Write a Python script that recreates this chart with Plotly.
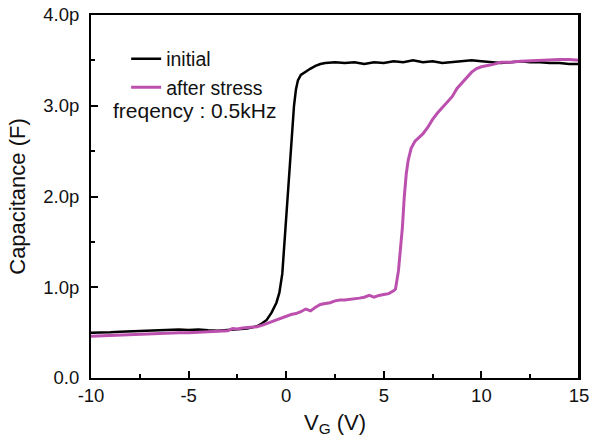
import plotly.graph_objects as go

# ---- data ----
vg_initial = [-10, -9.5, -9, -8.5, -8, -7.5, -7, -6.5, -6, -5.5, -5, -4.5, -4, -3.5, -3, -2.5,
              -2, -1.5, -1.25, -1.0, -0.75, -0.5, -0.35, -0.2, -0.1, 0.0, 0.1, 0.2, 0.3, 0.4,
              0.5, 0.6, 0.75, 1.0, 1.25, 1.5, 1.75, 2.0, 2.5, 3, 3.5, 4, 4.5, 5, 5.5, 6, 6.5,
              7, 7.5, 8, 8.5, 9, 9.5, 10, 10.5, 11, 11.5, 12, 12.5, 13, 13.5, 14, 14.5, 15]
c_initial = [0.50, 0.50, 0.505, 0.51, 0.515, 0.52, 0.52, 0.525, 0.53, 0.535, 0.53, 0.535, 0.525,
             0.52, 0.53, 0.54, 0.545, 0.57, 0.60, 0.64, 0.72, 0.83, 0.94, 1.15, 1.45, 1.75,
             2.05, 2.40, 2.75, 3.00, 3.18, 3.28, 3.34, 3.38, 3.41, 3.44, 3.46, 3.47, 3.48,
             3.47, 3.48, 3.46, 3.48, 3.47, 3.49, 3.48, 3.50, 3.48, 3.49, 3.47, 3.48, 3.49,
             3.50, 3.49, 3.48, 3.47, 3.48, 3.49, 3.48, 3.48, 3.47, 3.47, 3.46, 3.46]

vg_stress = [-10, -9.5, -9, -8.5, -8, -7.5, -7, -6.5, -6, -5.5, -5, -4.5, -4, -3.5, -3, -2.75,
             -2.5, -2.25, -2, -1.75, -1.5, -1.25, -1, -0.75, -0.5, -0.25, 0, 0.25, 0.5, 0.75,
             1.0, 1.25, 1.5, 1.75, 2.0, 2.25, 2.5, 2.75, 3.0, 3.25, 3.5, 3.75, 4.0, 4.25, 4.5,
             4.75, 5.0, 5.25, 5.5, 5.6, 5.75, 5.85, 5.95, 6.05, 6.15, 6.25, 6.4, 6.6, 6.8, 7.0,
             7.25, 7.5, 7.75, 8.0, 8.25, 8.5, 8.75, 9.0, 9.25, 9.5, 9.75, 10.0, 10.25, 10.5,
             11, 11.5, 12, 12.5, 13, 13.5, 14, 14.5, 15]
c_stress = [0.46, 0.465, 0.47, 0.475, 0.48, 0.485, 0.49, 0.49, 0.495, 0.50, 0.50, 0.505, 0.51,
            0.51, 0.52, 0.545, 0.54, 0.55, 0.555, 0.56, 0.565, 0.58, 0.60, 0.62, 0.64, 0.66,
            0.68, 0.70, 0.71, 0.73, 0.76, 0.74, 0.78, 0.81, 0.82, 0.83, 0.85, 0.86, 0.86,
            0.865, 0.875, 0.88, 0.89, 0.91, 0.89, 0.91, 0.92, 0.93, 0.96, 0.98, 1.18, 1.38,
            1.65, 2.00, 2.25, 2.40, 2.53, 2.61, 2.65, 2.69, 2.76, 2.85, 2.92, 2.98, 3.04,
            3.10, 3.19, 3.25, 3.32, 3.37, 3.41, 3.43, 3.44, 3.45, 3.48, 3.48, 3.49, 3.495,
            3.50, 3.51, 3.51, 3.51, 3.50]

y_tickvals = [0, 1, 2, 3, 4]
y_ticktext = ["0.0", "1.0p", "2.0p", "3.0p", "4.0p"]
x_tickvals = [-10, -5, 0, 5, 10, 15]
x_ticktext = ["-10", "-5", "0", "5", "10", "15"]

series_names = ["initial", "after stress"]
series_colors = ["#000000", "#BC50AE"]
note_text = "freqency : 0.5kHz"

FONT = "Liberation Sans, Arial, sans-serif"

fig = go.Figure()
fig.add_trace(go.Scatter(x=vg_initial, y=c_initial, mode="lines", name=series_names[0],
                         line=dict(color=series_colors[0], width=2.5)))
fig.add_trace(go.Scatter(x=vg_stress, y=c_stress, mode="lines", name=series_names[1],
                         line=dict(color=series_colors[1], width=3)))

axis_common = dict(
    showgrid=False, zeroline=False, showline=True, linecolor="black", linewidth=2,
    mirror=True, ticks="inside", ticklen=7, tickwidth=2, tickcolor="black",
    tickfont=dict(family=FONT, size=18.5, color="#111"), automargin=False,
    ticklabeloverflow="allow",
)

fig.update_xaxes(range=[-10, 15], tickvals=x_tickvals, ticktext=x_ticktext,
                 minor=dict(dtick=2.5, tick0=-10, ticks="inside", ticklen=4, tickwidth=2,
                            tickcolor="black"),
                 title=dict(text="V<sub>G</sub> (V)", font=dict(family=FONT, size=22, color="#111"),
                            standoff=9),
                 **axis_common)
fig.update_yaxes(range=[0, 4], tickvals=y_tickvals, ticktext=y_ticktext,
                 ticklabelstandoff=6,
                 minor=dict(dtick=0.5, tick0=0, ticks="inside", ticklen=4, tickwidth=2,
                            tickcolor="black"),
                 title=dict(text="Capacitance (F)", font=dict(family=FONT, size=22, color="#111"),
                            standoff=12),
                 **axis_common)

# right frame edge (plot-area border)
fig.add_shape(type="line", xref="paper", yref="paper", x0=1, x1=1, y0=0, y1=1,
              line=dict(color="black", width=2), layer="above")

fig.add_annotation(xref="paper", yref="paper", x=0.041, y=0.738, xanchor="left", yanchor="middle",
                   text=note_text, showarrow=False, font=dict(family=FONT, size=21, color="#111"))

fig.update_layout(
    width=592, height=440,
    margin=dict(l=91, r=13, t=15, b=62),
    paper_bgcolor="white", plot_bgcolor="white",
    showlegend=True,
    legend=dict(x=0.072, y=0.932, xanchor="left", yanchor="top", bgcolor="rgba(0,0,0,0)",
                font=dict(family=FONT, size=19.5, color="#111"), tracegroupgap=0,
                itemwidth=30),
)

fig.write_html("out.html")
